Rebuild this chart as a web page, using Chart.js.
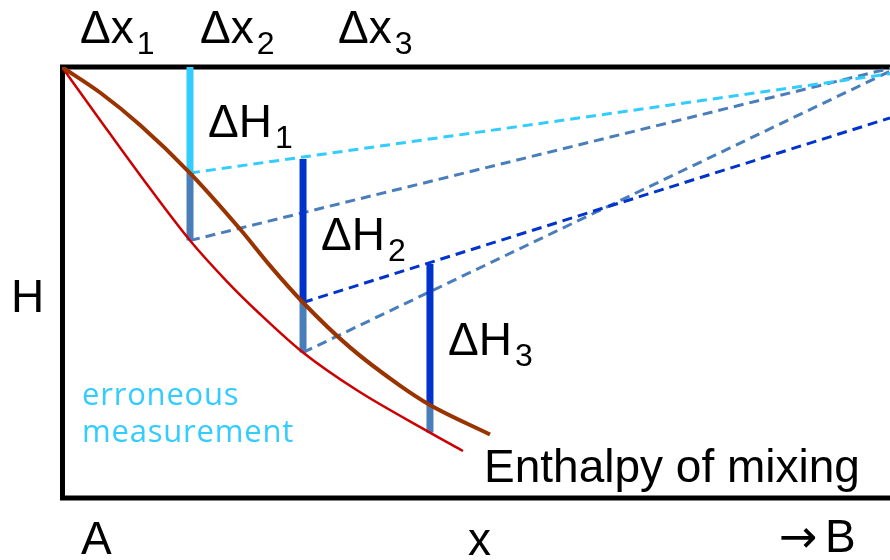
<!DOCTYPE html>
<html>
<head>
<meta charset="utf-8">
<script src="https://cdn.jsdelivr.net/npm/chart.js@4"></script>
<style>
  body { margin: 0; background: #fff; }
  canvas { display: block; }
</style>
</head>
<body>
<canvas id="chart" width="890" height="560"></canvas>
<script>
// composition x (0 = A, 100 = B) and enthalpy H (0 at the top edge, negative downwards)
const brownX = [0, 4.59, 9.42, 15.46, 21.5, 25.12, 29.11, 34.78, 40.82, 44.44, 51.69];
const brownH = [0, -5.96, -13.55, -24.77, -37.85, -46.4, -55.02, -65.51, -74.44, -78.97, -85.86];

const redX = [0, 4.59, 9.42, 15.46, 19.93, 23.91, 29.11, 35.63, 44.44, 48.43];
const redH = [0, -12.38, -25.23, -40.54, -50.12, -57.71, -66.71, -75.54, -85.42, -89.72];

// the three measurement steps
const barX = [15.46, 29.11, 44.44];
const barTopH = [0, -21.5, -46];
const barMidH = [-24.77, -55.02, -78.97];
const barLowH = [-40.54, -66.71, -85.42];

// dashed tangents running towards B
const tangentFrom = [[0, 'mid'], [0, 'low'], [1, 'mid'], [1, 'low']];
const tangentEndX = 100;
const tangentEndH = [-1.6, -0.3, -11.9, -1.0];

const stepLabels = ['1', '2', '3'];
const erroneousText = ['erroneous', 'measurement'];
const curveLabel = 'Enthalpy of mixing';

const LIGHT = '#33CCFF';
const STEEL = '#4A7EBB';
const DARK = '#0033CC';
const BROWN = '#993300';
const RED = '#CC0000';
const ARIAL = '"Liberation Sans", Arial, sans-serif';

const toPts = (xs, ys) => xs.map((x, i) => ({x: x, y: ys[i]}));

const datasets = [];
datasets.push({
    data: toPts(brownX, brownH), borderColor: BROWN, borderWidth: 4,
    cubicInterpolationMode: 'monotone', order: 0
});
datasets.push({
    data: toPts(redX, redH), borderColor: RED, borderWidth: 2.5,
    cubicInterpolationMode: 'monotone', order: 1
});
barX.forEach((x, i) => {
    datasets.push({
        data: toPts([x, x], [barTopH[i], barMidH[i]]),
        borderColor: i === 0 ? LIGHT : DARK, borderWidth: 7, order: 2
    });
    datasets.push({
        data: toPts([x, x], [barMidH[i], barLowH[i]]),
        borderColor: STEEL, borderWidth: 7, order: 2
    });
});
tangentFrom.forEach(([b, where], i) => {
    const startH = where === 'mid' ? barMidH[b] : barLowH[b];
    let color = STEEL;
    if (where === 'mid') color = b === 0 ? LIGHT : DARK;
    datasets.push({
        data: toPts([barX[b], tangentEndX], [startH, tangentEndH[i]]),
        borderColor: color, borderWidth: 3, borderDash: [10, 6], order: 3
    });
});

function subText(ctx, main, sub, x, y) {
    ctx.font = '46px ' + ARIAL;
    ctx.fillText(main, x, y);
    const w = ctx.measureText(main).width;
    ctx.font = '32px ' + ARIAL;
    ctx.fillText(sub, x + w + 3, y + 11);
}

const frame = {
    id: 'frame',
    beforeDatasetsDraw(chart) {
        const {ctx, chartArea} = chart;
        ctx.save();
        ctx.strokeStyle = '#000';
        ctx.lineWidth = 5;
        ctx.lineJoin = 'miter';
        ctx.beginPath();
        ctx.moveTo(chart.width, chartArea.top);
        ctx.lineTo(chartArea.left + 0.5, chartArea.top);
        ctx.lineTo(chartArea.left + 0.5, chartArea.bottom);
        ctx.lineTo(chart.width, chartArea.bottom);
        ctx.stroke();
        ctx.restore();
    },
    afterDraw(chart) {
        const {ctx} = chart;
        const xs = chart.scales.x;
        const ys = chart.scales.y;
        ctx.save();
        ctx.fillStyle = '#000';
        ctx.textBaseline = 'alphabetic';
        ctx.textAlign = 'left';

        // Δx labels across the top
        const dxLeft = [80, 200, 338];
        stepLabels.forEach((s, i) => subText(ctx, 'Δx', s, dxLeft[i], 43));

        // ΔH labels beside each bar
        barX.forEach((x, i) => {
            const px = xs.getPixelForValue(x) + 18;
            const py = ys.getPixelForValue(barTopH[i]) + (i === 0 ? 70 : 91);
            subText(ctx, 'ΔH', stepLabels[i], px, py);
        });

        ctx.font = '46px ' + ARIAL;
        ctx.fillText('H', 11, 312);
        ctx.fillText('A', 81, 554);
        ctx.fillText('x', 468, 555);
        ctx.fillText('B', 825, 552);
        ctx.fillText(curveLabel, 484, 482);
        ctx.font = '46px "DejaVu Sans", sans-serif';
        ctx.fillText('→', 779, 552);

        ctx.fillStyle = LIGHT;
        ctx.font = '31px "Open Sans", sans-serif';
        ctx.letterSpacing = '0.8px';
        ctx.fillText(erroneousText[0], 82, 405);
        ctx.fillText(erroneousText[1], 82, 442);
        ctx.restore();
    }
};

new Chart(document.getElementById('chart'), {
    type: 'scatter',
    data: {datasets: datasets},
    options: {
        responsive: false,
        animation: false,
        showLine: true,
        layout: {padding: {left: 62, top: 67, right: 0, bottom: 62}},
        elements: {
            point: {radius: 0, hoverRadius: 0},
            line: {borderCapStyle: 'butt', fill: false}
        },
        plugins: {
            legend: {display: false},
            tooltip: {enabled: false}
        },
        scales: {
            x: {type: 'linear', min: 0, max: 100, display: false},
            y: {type: 'linear', min: -100.7, max: 0, display: false}
        }
    },
    plugins: [frame]
});
</script>
</body>
</html>
